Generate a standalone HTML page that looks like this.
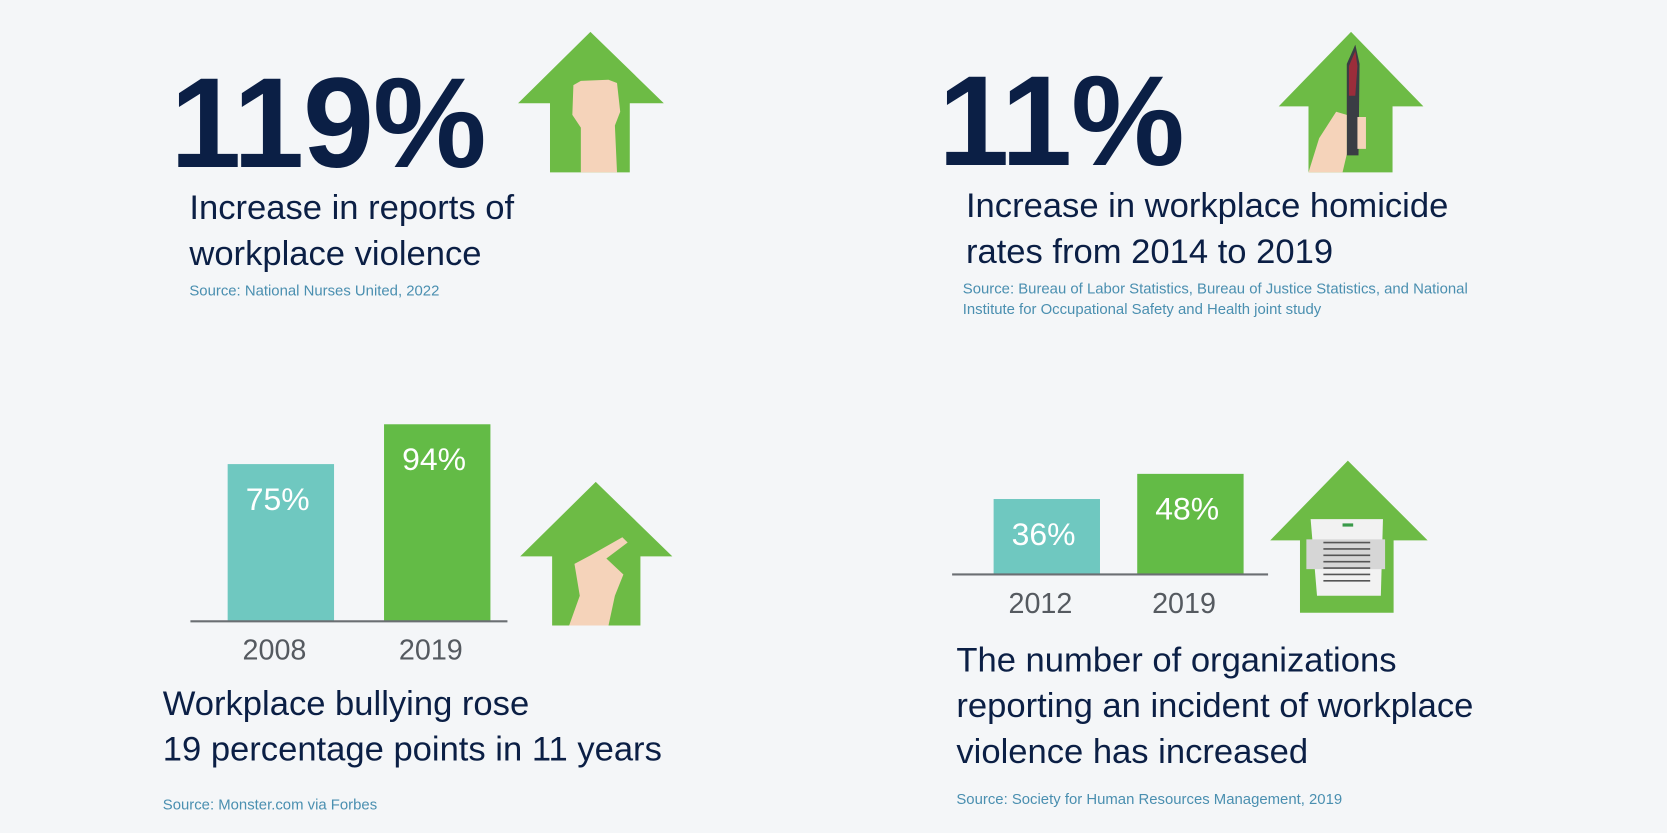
<!DOCTYPE html>
<html><head><meta charset="utf-8">
<style>
html,body{margin:0;padding:0;background:#f4f6f8;width:1667px;height:833px;overflow:hidden}
#wrap{position:absolute;left:0;top:0;width:1567px;height:783px;transform:scale(1.06382);transform-origin:0 0;font-family:"Liberation Sans",sans-serif;color:#0b1f45}
.t{position:absolute;white-space:nowrap}
.big{font-weight:bold;font-size:120px;letter-spacing:-1px;line-height:1}
.h{font-size:32.5px;line-height:43px}
.src{font-size:14px;color:#4a8fb0;line-height:19px}
svg{position:absolute;left:0;top:0}
</style></head><body>
<div id="wrap">
<svg width="1567" height="783">
 <g>
  <polygon points="555,30 624,97 592,97 592,162 517,162 517,97 487,97" fill="#6dbb45"/>
  <path d="M546,162 L546,120 L538,108 L539,80 L546,76 L572,75 L580,78 L583,105 L578,118 L580,162 Z" fill="#f5d3ba"/>
 </g>
 <g>
  <polygon points="1270,30 1338,100 1309,100 1309,162 1230,162 1230,100 1202,100" fill="#6dbb45"/>
  <path d="M1266,60 L1274,42 L1278,60 L1277,146 L1266,146 Z" fill="#3a3d44"/>
  <path d="M1268,62 L1274,48 L1276,62 L1274,90 L1268,90 Z" fill="#9b2d3a"/>
  <path d="M1230,162 L1240,130 L1256,105 L1266,108 L1266,145 L1262,162 Z M1276,110 L1284,110 L1284,140 L1276,140 Z" fill="#f5d3ba"/>
 </g>
 <g>
  <polygon points="560,453 632,523 602,523 602,588 519,588 519,523 489,523" fill="#6dbb45"/>
  <path d="M535,588 L545,560 L540,530 L555,522 L585,505 L590,510 L570,525 L586,540 L578,560 L572,588 Z" fill="#f5d3ba"/>
 </g>
 <g>
  <polygon points="1267,433 1342,508 1310,508 1310,576 1222,576 1222,508 1194,508" fill="#6dbb45"/>
  <path d="M1232,488 L1300,488 L1298,560 L1238,560 Z" fill="#f2f2f2"/>
  <rect x="1228" y="507" width="74" height="28" fill="#d6d6d6"/>
  <rect x="1262" y="492" width="10" height="3" fill="#3a9a4a"/>
  <g stroke="#555" stroke-width="1.5">
   <line x1="1244" y1="510" x2="1288" y2="510"/><line x1="1244" y1="516" x2="1288" y2="516"/>
   <line x1="1244" y1="522" x2="1288" y2="522"/><line x1="1244" y1="528" x2="1288" y2="528"/>
   <line x1="1244" y1="534" x2="1288" y2="534"/><line x1="1244" y1="540" x2="1288" y2="540"/>
   <line x1="1244" y1="546" x2="1288" y2="546"/>
  </g>
 </g>
 <g id="c1"></g>
 <g id="c2"></g>
</svg>

<div class="t big" style="left:160px;top:56px">119%</div>
<div class="t h" style="left:178px;top:174px">Increase in reports of<br>workplace violence</div>
<div class="t src" style="left:178px;top:264px">Source: National Nurses United, 2022</div>

<div class="t big" style="left:882px;top:54px">11%</div>
<div class="t h" style="left:908px;top:172px">Increase in workplace homicide<br>rates from 2014 to 2019</div>
<div class="t src" style="left:905px;top:262px">Source: Bureau of Labor Statistics, Bureau of Justice Statistics, and National<br>Institute for Occupational Safety and Health joint study</div>

<div class="t h" style="left:153px;top:640px">Workplace bullying rose<br>19 percentage points in 11 years</div>
<div class="t src" style="left:153px;top:747px">Source: Monster.com via Forbes</div>

<div class="t h" style="left:899px;top:599px">The number of organizations<br>reporting an incident of workplace<br>violence has increased</div>
<div class="t src" style="left:899px;top:742px">Source: Society for Human Resources Management, 2019</div>
</div>
<script>
const years1=["2008","2019"];
const values1=[75,94];
const years2=["2012","2019"];
const values2=[36,48];
const colors=["#6fc8c0","#63bb46"];
const NS="http://www.w3.org/2000/svg";
function mk(tag,attrs,parent){const e=document.createElementNS(NS,tag);for(const k in attrs)e.setAttribute(k,attrs[k]);parent.appendChild(e);return e;}
function draw(gid,years,vals,baseY,x0,x1,barX,gap){
 const g=document.getElementById(gid);
 const yScale=v=>baseY-v*1.97;
 vals.forEach((v,i)=>{
  const x=barX+i*gap;
  const r=mk('rect',{x:x,y:yScale(v),width:100,height:baseY-yScale(v),fill:colors[i]},g);
  
  
  const t=mk('text',{x:x+47,y:yScale(v)+43,'text-anchor':'middle',fill:'#fff','font-size':30,'font-family':'Liberation Sans, sans-serif'},g);
  t.textContent=v+'%';
  
  
  const y=mk('text',{x:x+44,y:baseY+36,'text-anchor':'middle',fill:'#555a60','font-size':27,'font-family':'Liberation Sans, sans-serif'},g);
  y.textContent=years[i];
  
  
 });
 const a=mk('line',{x1:x0,x2:x1,y1:baseY,y2:baseY,stroke:'#6b6f73','stroke-width':2},g);
 
 
}
draw('c1',years1,values1,584,179,477,214,147);
draw('c2',years2,values2,540,895,1192,934,135);
</script>
</body></html>
